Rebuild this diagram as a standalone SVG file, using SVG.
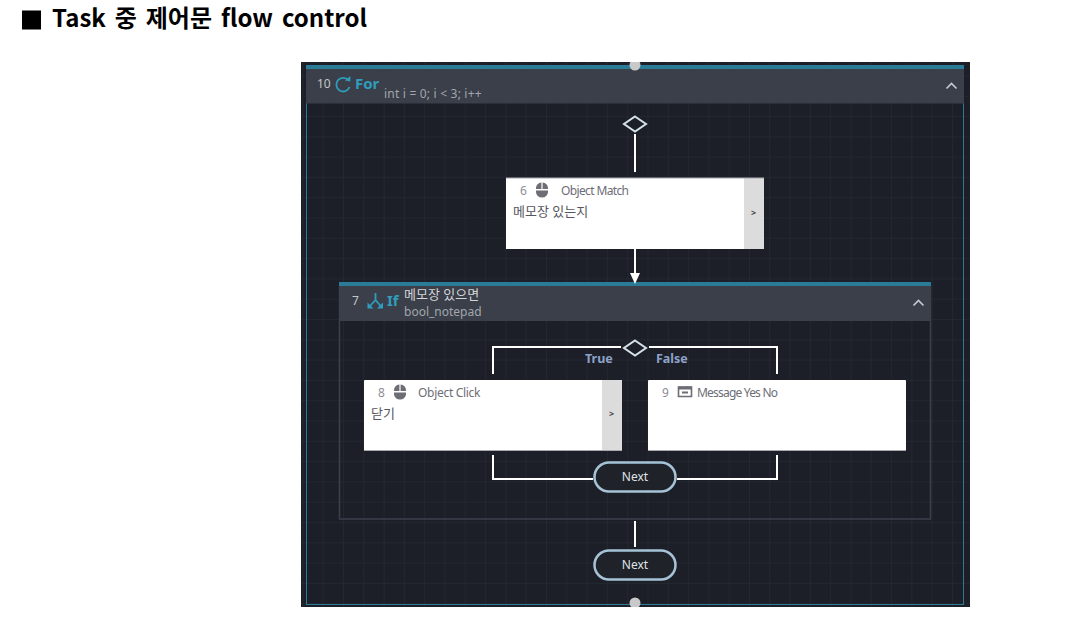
<svg xmlns="http://www.w3.org/2000/svg" width="1069" height="625" viewBox="0 0 1069 625">
<style>
text{font-family:"Noto Sans","Noto Sans CJK KR",sans-serif}
.title{font-family:"Noto Sans CJK KR","Noto Sans",sans-serif;font-size:24px;font-weight:700;fill:#000;word-spacing:3.5px}
.hdr{fill:#3a3f49}
.teal{fill:#2a7b96}
.num{font-size:12px;fill:#c4c7cc}
.kw{font-size:15px;font-weight:700;fill:#2f9dbd}
.sub{font-size:12px;fill:#a2a6ae}
.card{fill:#fff}
.side{fill:#dcdcdc}
.edge{fill:#a8a8ae}
.cn{font-size:12px;fill:#8d8d96}
.ct{font-size:12px;fill:#6d6d76;letter-spacing:-.3px}
.cb{font-size:13px;fill:#55555e}
.gt{font-size:9px;font-weight:700;fill:#444}
.wire{fill:none;stroke:#fff;stroke-width:2}
.dia{fill:#1c1f28;stroke:#d5e3e8;stroke-width:2}
.pill{fill:#202229;stroke:#a5c3d6;stroke-width:2.5}
.nx{font-size:12px;fill:#dfe2e6;text-anchor:middle}
.lab{font-size:12.500px;font-weight:700;fill:#8ea2c8}
.chev{fill:none;stroke:#c6cad0;stroke-width:1.6}
.ico{fill:none;stroke:#2f9dbd;stroke-width:1.8}
.mouse{fill:#6d6d76}
.dot{fill:#c9c9c9}
.mask{fill:#fff}
</style>
<defs>
<pattern id="grid" x="322.7" y="116" width="20.3" height="20.3" patternUnits="userSpaceOnUse">
<path d="M0 0H20.3M0 0V20.3" fill="none" stroke="#2a2e37" stroke-width="1"/>
</pattern>
<g id="mouseIcon"><path d="M-6 -1V-2A5.500 5.500 0 0 1 -.6 -7.500V-1ZM.6 -7.500A5.500 5.500 0 0 1 6 -2V-1H.6ZM-6 .4H6V2A6 5.500 0 0 1 -6 2Z" class="mouse"/></g>
</defs>
<rect width="1069" height="625" fill="#fff"/>
<g id="title">
<rect x="22" y="10.500" width="19" height="19" fill="#000"/>
<text class="title" x="52" y="27">Task 중 제어문 flow control</text>
</g>
<g id="canvas">
<rect x="301" y="62" width="669" height="545" fill="#1c1f28"/>
<rect x="301" y="62" width="669" height="545" fill="url(#grid)"/>
</g>
<g id="n10">
<rect x="306.500" y="69" width="657" height="535.500" fill="none" stroke="#2a7b96" stroke-width="1"/>
<rect class="teal" x="306" y="65" width="658" height="4"/>
<rect class="hdr" x="306" y="69" width="658" height="34.500"/>
<text class="num" x="317" y="88">10</text>
<path class="ico" d="M348.500 80.500A6.800 6.800 0 1 0 349.500 87"/><path d="M345 80.500L350.300 81.500V76Z" fill="#2f9dbd"/>
<text class="kw" x="355" y="89">For</text>
<text class="sub" x="384" y="98" letter-spacing=".2">int i = 0; i &lt; 3; i++</text>
<path class="chev" d="M946.500 88.500L951.500 83.500L956.500 88.500"/>
<circle class="dot" cx="635" cy="65" r="5.500"/>
<rect class="mask" x="625" y="56" width="20" height="6"/>
<circle class="dot" cx="635" cy="603" r="5.500"/>
<rect class="mask" x="625" y="607" width="20" height="6"/>
</g>
<g id="n7">
<rect x="339.500" y="286" width="591" height="233" fill="none" stroke="#3a404c" stroke-width="1.500"/>
<rect class="teal" x="339" y="282" width="592" height="4"/>
<rect class="hdr" x="339" y="286" width="592" height="35"/>
<text class="num" x="352" y="305">7</text>
<path class="ico" d="M375.500 293V300L381.500 307M375.500 300L369 307"/>
<path d="M367.500 302.500V308.500H373.500ZM383 302.500V308.500H377Z" fill="#2f9dbd"/>
<text class="kw" x="387" y="306">If</text>
<text x="404" y="299" font-size="13" fill="#d3d5d9">메모장 있으면</text>
<text class="sub" x="404" y="316">bool_notepad</text>
<path class="chev" d="M913.500 305.500L918.500 300.500L923.500 305.500"/>
</g>
<g id="connectors">
<path class="wire" d="M635 134V172"/>
<path class="wire" d="M635 249V274"/>
<path d="M630 273H640L635 284Z" fill="#fff"/>
<path class="wire" d="M621 347H493V374"/>
<path class="wire" d="M649 347H777V374"/>
<path class="wire" d="M493 455V479H593"/>
<path class="wire" d="M777 455V479H677"/>
<path class="wire" d="M635 521V547"/>
</g>
<g id="start10"><path class="dia" d="M635 116.500L646 124L635 131.500L624 124Z"/></g>
<g id="n6">
<rect class="card" x="506" y="178" width="258" height="71"/>
<rect class="side" x="744" y="178" width="20" height="71"/>
<rect class="edge" x="506" y="177.500" width="258" height="1"/>
<text class="cn" x="520" y="195">6</text>
<use href="#mouseIcon" x="542" y="190"/>
<text class="ct" x="561" y="195" style="letter-spacing:-.63px">Object Match</text>
<text class="cb" x="513" y="216">메모장 있는지</text>
<text class="gt" x="751" y="216">&gt;</text>
</g>
<g id="start7"><path class="dia" d="M635 340.500L646 348L635 355.500L624 348Z"/>
<text class="lab" x="585" y="363">True</text>
<text class="lab" x="656" y="363">False</text>
</g>
<g id="n8">
<rect class="card" x="364" y="380" width="258" height="70.500" rx="1"/>
<rect class="side" x="602" y="380" width="20" height="70.500"/>
<rect class="edge" x="364" y="450" width="258" height="1"/>
<text class="cn" x="378" y="397">8</text>
<use href="#mouseIcon" x="400" y="392"/>
<text class="ct" x="418" y="397">Object Click</text>
<text class="cb" x="371" y="418">닫기</text>
<text class="gt" x="609" y="417">&gt;</text>
</g>
<g id="n9">
<rect class="card" x="648" y="380" width="258" height="70.500" rx="1"/>
<rect class="edge" x="648" y="450" width="258" height="1"/>
<text class="cn" x="662" y="397">9</text>
<path d="M678.500 387H691.500V396.500H678.500Z" fill="none" stroke="#6d6d76" stroke-width="1.600"/><rect x="678" y="386.500" width="14" height="3" fill="#6d6d76"/><rect x="682" y="391.500" width="6" height="2" fill="#6d6d76"/>
<text class="ct" x="697" y="397" style="letter-spacing:-.8px">Message Yes No</text>
</g>
<g id="next7">
<rect class="pill" x="594.500" y="462.500" width="81" height="29" rx="14.500"/>
<text class="nx" x="635" y="481">Next</text>
</g>
<g id="next10">
<rect class="pill" x="594.500" y="550.500" width="81" height="29" rx="14.500"/>
<text class="nx" x="635" y="569">Next</text>
</g>
</svg>
